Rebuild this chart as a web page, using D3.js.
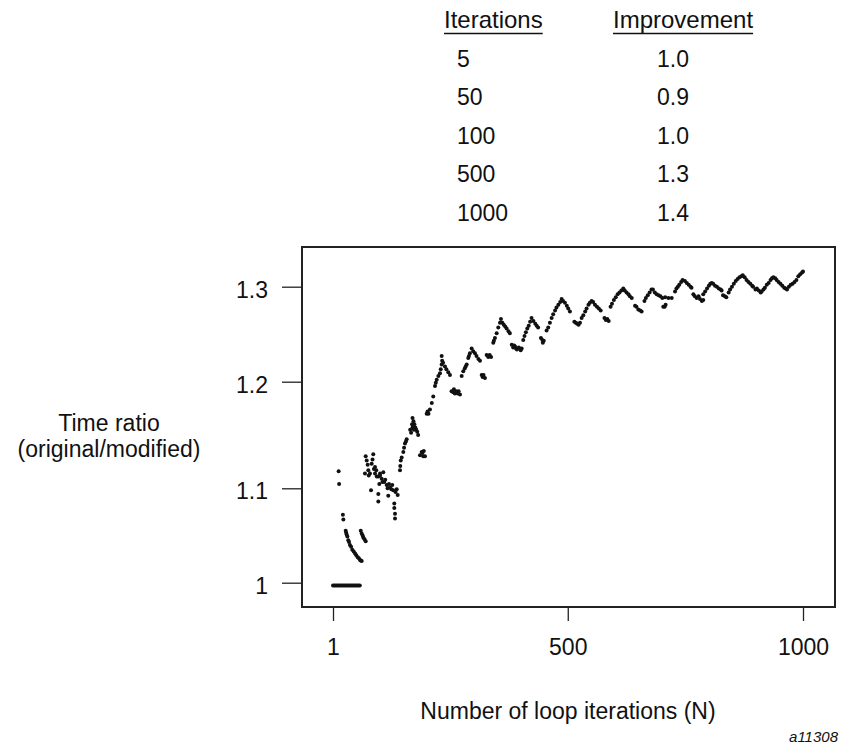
<!DOCTYPE html>
<html>
<head>
<meta charset="utf-8">
<title>Time ratio vs loop iterations</title>
<script src="https://cdn.jsdelivr.net/npm/d3@7"></script>
<style>
  body { margin: 0; background: #fff; }
  text { font-family: "Liberation Sans", Arial, sans-serif; fill: #111; }
</style>
</head>
<body>
<script>
// summary table
var tableIter = ['5', '50', '100', '500', '1000']
var tableImprove = ['1.0', '0.9', '1.0', '1.3', '1.4']

// axes
var xTicks = [1, 500, 1000]
var yTicks = [1, 1.1, 1.2, 1.3]

// measured points: loop iterations N and time ratio
var loopN = [
  1,4,7,10,13,16,19,22,25,28,31,34,37,40,43,46,49,52,55,58,
  13,14,22,23,
  28,29,30,31.5,33.5,35,37,39.5,42,45,48,50.5,53.5,56,58.5,60,62,
  60,62,64,65.5,68,70.5,
  69,70.5,72.6,74.7,76,77,79.6,81.8,83.2,85,86.6,88,90.3,90.3,93,94,97.3,97.3,97.3,99.4,
  100.9,101,104.5,106,107.9,110,112,115.1,117,118.5,120,122.1,125,127,129.1,131.3,131.3,132.8,132.8,134,136.4,138.5,
  143.4,144,145,147,150.4,152,154,156,157.6,
  165,167,169,170,172,174,176,178,180,182,170,173,
  185.9,189.5,191,192.9,194,196.5,
  200.1,202,204,207.1,
  211,214.1,217.8,219.5,221.4,225,228.4,230,232,233,232,
  235,239,242,246,249.6,
  253,256.6,258,260,263,266,268,270.9,
  274.5,277.9,281,283,285.1,288.5,290,292,295.7,
  299,302.8,306,310,313.4,
  317,319,321,324,
  327.6,331,334,337,
  341.6,343,345.2,348.9,352.3,355.9,358,
  361,364,367,370,374,377,
  381,384,386,388,390,392,396,400,402,
  405.4,408,411,414,417,420,423,427,431,434,437,443,446,447,449,455,458.5,
  462,465.7,469,473,476,480,484,487,490,494,498,501,504.6,514,517,520,523,526,
  529.5,533,537,540,544,547,550.7,554,557.8,562,566,570,578,581,584,587,
  591,594,598,602,606,610,614,618,621,625,629,632,636,643,646,650,654,657,
  663,666,670,674,678,681,685,689,693,697,701,703,706,708,707,714,721,
  728,731,734,737,741,744,749,753,757,761,763,767,770,774,778,781,785,788,
  788,792,796,800,803,806,809,813,817,821,825,827,830,834,837,
  842,845,849,853,857,861,865,869,872,876,880,884,888,892,894,899,902,906,910,912,
  916,919,923,927,931,934,937,941,944,948,952,956,960,963,966,
  970,974,978,982,986,990,994,998,1000
]
var timeRatio = [
  0.997,0.997,0.997,0.997,0.997,0.997,0.997,0.997,0.997,0.997,0.997,0.997,0.997,0.997,0.997,0.997,0.997,0.997,0.997,0.997,
  1.116,1.104,1.072,1.067,
  1.055,1.053,1.051,1.049,1.045,1.043,1.040,1.038,1.035,1.033,1.031,1.029,1.027,1.026,1.024,1.0235,1.023,
  1.055,1.052,1.050,1.048,1.046,1.044,
  1.114,1.130,1.126,1.122,1.117,1.112,1.114,1.098,1.123,1.127,1.132,1.118,1.120,1.114,1.117,1.111,1.111,1.094,1.086,1.104,
  1.114,1.112,1.109,1.106,1.115,1.106,1.108,1.103,1.100,1.092,1.104,1.101,1.099,1.103,1.098,1.084,1.079,1.073,1.068,1.096,1.099,1.093,
  1.117,1.121,1.126,1.129,1.134,1.138,1.142,1.144,1.146,
  1.155,1.152,1.160,1.166,1.163,1.160,1.157,1.155,1.153,1.150,1.157,1.155,
  1.131,1.134,1.133,1.130,1.135,1.130,
  1.170,1.172,1.170,1.174,
  1.180,1.186,1.196,1.199,1.202,1.206,1.209,1.213,1.218,1.222,1.227,
  1.220,1.216,1.213,1.210,1.207,
  1.191,1.190,1.193,1.189,1.191,1.189,1.191,1.188,
  1.206,1.211,1.214,1.216,1.218,1.225,1.227,1.230,1.235,
  1.232,1.230,1.227,1.224,1.222,
  1.207,1.205,1.207,1.204,
  1.228,1.226,1.228,1.226,
  1.241,1.243,1.246,1.251,1.257,1.262,1.266,
  1.262,1.260,1.258,1.256,1.253,1.251,
  1.239,1.236,1.238,1.237,1.235,1.234,1.236,1.233,1.235,
  1.244,1.248,1.252,1.256,1.259,1.263,1.267,1.264,1.261,1.259,1.257,1.246,1.244,1.241,1.243,1.254,1.257,
  1.262,1.267,1.271,1.275,1.278,1.281,1.284,1.287,1.285,1.283,1.280,1.277,1.274,1.263,1.262,1.261,1.260,1.262,
  1.267,1.270,1.274,1.277,1.281,1.283,1.285,1.284,1.281,1.279,1.277,1.275,1.267,1.265,1.266,1.264,
  1.279,1.282,1.286,1.289,1.292,1.294,1.296,1.298,1.296,1.294,1.292,1.290,1.288,1.280,1.279,1.276,1.275,1.274,
  1.285,1.288,1.291,1.294,1.297,1.297,1.294,1.292,1.291,1.290,1.288,1.279,1.279,1.281,1.289,1.288,1.288,
  1.295,1.298,1.300,1.302,1.305,1.307,1.306,1.304,1.302,1.300,1.299,1.292,1.290,1.288,1.290,1.287,1.285,1.286,
  1.292,1.295,1.298,1.301,1.303,1.304,1.303,1.301,1.300,1.298,1.297,1.296,1.291,1.290,1.289,
  1.294,1.297,1.300,1.303,1.306,1.308,1.310,1.311,1.312,1.310,1.307,1.305,1.303,1.301,1.300,1.297,1.298,1.296,1.294,1.295,
  1.297,1.299,1.302,1.304,1.307,1.309,1.310,1.309,1.307,1.305,1.303,1.301,1.299,1.298,1.297,
  1.300,1.302,1.303,1.305,1.307,1.311,1.313,1.315,1.316
]

var W = 851, H = 747
var frame = { left: 302, top: 247, right: 835, bottom: 607 }

var svg = d3.select('body').append('svg')
    .attr('width', W)
    .attr('height', H)

var xScale = d3.scaleLinear()
    .domain([1, 1000])
    .range([333, 803])

// the printed axis is not evenly spaced, so follow its tick positions
var yScale = d3.scaleLinear()
    .domain(yTicks)
    .range([582.7, 488.3, 381.7, 286.7])

// table
var table = svg.append('g')
table.append('text').attr('x', 444).attr('y', 28).style('font-size', '24px').text('Iterations')
table.append('text').attr('x', 613).attr('y', 28).style('font-size', '24px').text('Improvement')
table.selectAll('text').each(function () {
    var len = this.getComputedTextLength()
    var x0 = +d3.select(this).attr('x')
    table.append('line')
        .attr('x1', x0).attr('x2', x0 + len)
        .attr('y1', 33.5).attr('y2', 33.5)
        .attr('stroke', '#111').attr('stroke-width', 1.5)
})
table.selectAll('.iter')
    .data(tableIter)
    .enter().append('text')
    .attr('class', 'iter')
    .attr('x', 457)
    .attr('y', function (d, i) { return 66.7 + i * 38.5 })
    .style('font-size', '23px')
    .text(function (d) { return d })
table.selectAll('.impr')
    .data(tableImprove)
    .enter().append('text')
    .attr('class', 'impr')
    .attr('x', 657)
    .attr('y', function (d, i) { return 66.7 + i * 38.5 })
    .style('font-size', '23px')
    .text(function (d) { return d })

// frame
svg.append('rect')
    .attr('x', frame.left).attr('y', frame.top)
    .attr('width', frame.right - frame.left)
    .attr('height', frame.bottom - frame.top)
    .attr('fill', 'none')
    .attr('stroke', '#222')
    .attr('stroke-width', 2)

// y axis
var yAxis = d3.axisLeft(yScale)
    .tickValues(yTicks)
    .tickSize(20)
    .tickPadding(14)
    .tickFormat(function (d) { return d === 1 ? '1' : d3.format('.1f')(d) })
var gy = svg.append('g')
    .attr('transform', 'translate(' + frame.left + ',0)')
    .call(yAxis)
gy.select('.domain').remove()
gy.selectAll('line').attr('stroke', '#222').attr('stroke-width', 1.3)
gy.selectAll('text')
    .style('font-size', '23px')
    .style('font-family', '"Liberation Sans", Arial, sans-serif')
    .attr('fill', '#111')
    .attr('dy', '0.45em')

// x axis
var xAxis = d3.axisBottom(xScale)
    .tickValues(xTicks)
    .tickSize(14)
    .tickPadding(18)
    .tickFormat(d3.format('d'))
var gx = svg.append('g')
    .attr('transform', 'translate(0,' + frame.bottom + ')')
    .call(xAxis)
gx.select('.domain').remove()
gx.selectAll('line').attr('stroke', '#222').attr('stroke-width', 1.3)
gx.selectAll('text')
    .style('font-size', '23px')
    .style('font-family', '"Liberation Sans", Arial, sans-serif')
    .attr('fill', '#111')

// points
svg.append('g')
    .selectAll('circle')
    .data(loopN)
    .enter()
    .append('circle')
    .attr('cx', function (d) { return xScale(d) })
    .attr('cy', function (d, i) { return yScale(timeRatio[i]) })
    .attr('r', 2)
    .attr('fill', '#111')

// labels
svg.append('text')
    .attr('x', 109).attr('y', 431)
    .attr('text-anchor', 'middle')
    .style('font-size', '23px')
    .text('Time ratio')
svg.append('text')
    .attr('x', 109).attr('y', 457)
    .attr('text-anchor', 'middle')
    .style('font-size', '23px')
    .text('(original/modified)')
svg.append('text')
    .attr('x', 568).attr('y', 719)
    .attr('text-anchor', 'middle')
    .style('font-size', '23px')
    .text('Number of loop iterations (N)')
svg.append('text')
    .attr('x', 838).attr('y', 742)
    .attr('text-anchor', 'end')
    .style('font-size', '15px')
    .style('font-style', 'italic')
    .text('a11308')
</script>
</body>
</html>
